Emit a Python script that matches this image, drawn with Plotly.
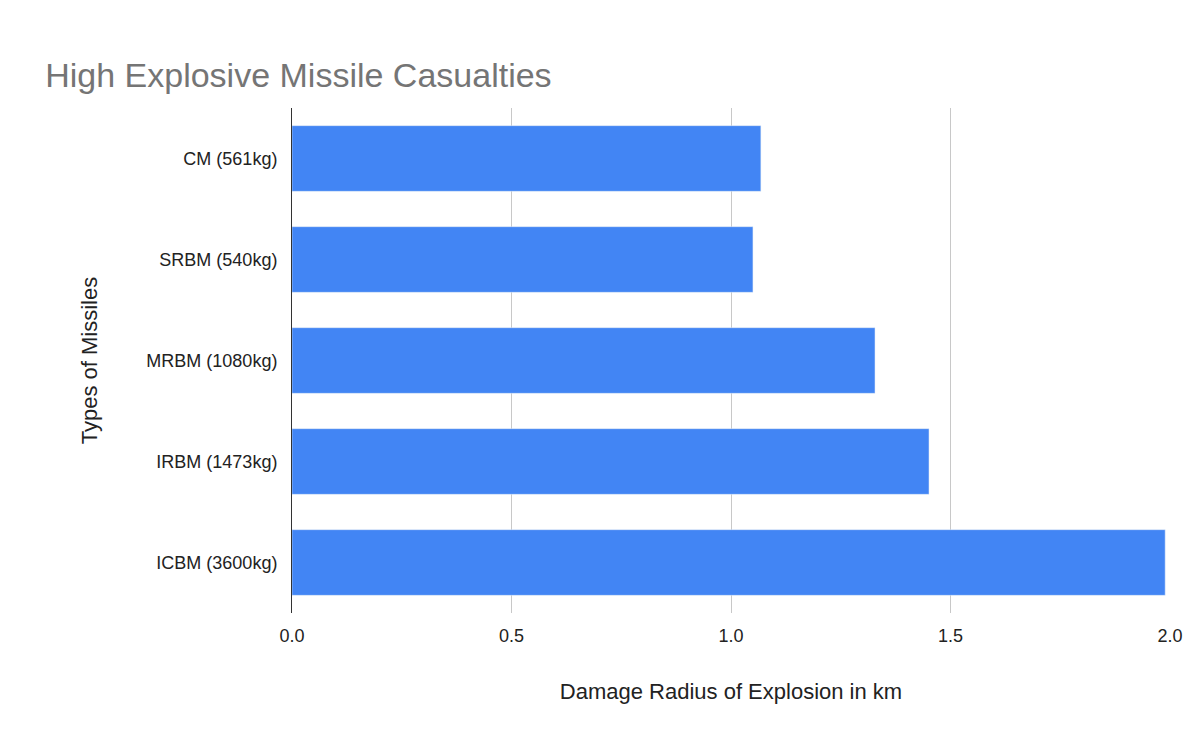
import plotly.graph_objects as go

missiles = ["CM (561kg)", "SRBM (540kg)", "MRBM (1080kg)", "IRBM (1473kg)", "ICBM (3600kg)"]
radius_km = [1.068, 1.05, 1.328, 1.451, 1.989]
x_ticks = [0.0, 0.5, 1.0, 1.5, 2.0]

fig = go.Figure(go.Bar(
    x=radius_km, y=missiles, orientation="h",
    marker_color="#4285f4", width=0.65,
))

fig.update_layout(
    width=1200, height=742,
    paper_bgcolor="white", plot_bgcolor="white",
    font=dict(family="Liberation Sans, Arial", size=18, color="#222222"),
    title=dict(text="High Explosive Missile Casualties", x=0.031, y=0.925,
               font=dict(size=34, color="#757575")),
    margin=dict(l=284, r=38, t=100, b=137),
    showlegend=False,
)
fig.update_xaxes(
    range=[0, 2.0], tickvals=x_ticks, ticktext=[f"{v:.1f}" for v in x_ticks],
    showgrid=True, gridcolor="#c8c8c8", gridwidth=1, zeroline=False,
    title=dict(text="Damage Radius of Explosion in km", standoff=38),
    ticks="", ticklabelstandoff=10,
)
fig.update_yaxes(
    categoryorder="array", categoryarray=missiles[::-1],
    showline=True, linecolor="#333333", linewidth=1, ticks="",
    title=dict(text="Types of Missiles", standoff=42), ticklabelstandoff=10,
)

fig.write_html("out.html")
